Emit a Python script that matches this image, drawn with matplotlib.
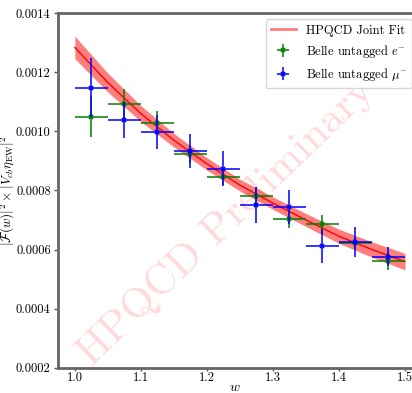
import numpy as np
import matplotlib
matplotlib.use("Agg")
import matplotlib.pyplot as plt
from matplotlib.lines import Line2D

plt.rcParams['font.family'] = ['cmr10', 'DejaVu Serif']
plt.rcParams['mathtext.fontset'] = 'cm'
plt.rcParams['axes.formatter.use_mathtext'] = True

# Belle bins (w centres, half-width 0.025)
w_bins = [1.025, 1.075, 1.125, 1.175, 1.225, 1.275, 1.325, 1.375, 1.425, 1.475]
w_halfwidth = 0.025

# Belle untagged e-
e_vals = [0.001050, 0.001092, 0.001028, 0.000923, 0.000845, 0.000781, 0.000702, 0.000686, 0.000621, 0.000561]
e_errs = [0.000070, 0.000050, 0.000040, 0.000030, 0.000025, 0.000030, 0.000030, 0.000032, 0.000020, 0.000030]

# Belle untagged mu-
mu_vals = [0.001148, 0.001039, 0.000998, 0.000933, 0.000873, 0.000751, 0.000744, 0.000613, 0.000626, 0.000576]
mu_errs = [0.000100, 0.000060, 0.000058, 0.000058, 0.000059, 0.000061, 0.000058, 0.000058, 0.000050, 0.000032]

# HPQCD joint fit (central value and band half-width)
fit_w = [1.00, 1.05, 1.10, 1.15, 1.20, 1.25, 1.30, 1.35, 1.40, 1.45, 1.50]
fit_vals = [0.001284, 0.001165, 0.001060, 0.000970, 0.000890, 0.000818, 0.000757, 0.000700, 0.000645, 0.000600, 0.000559]
fit_errs = [0.000038, 0.000032, 0.000027, 0.000023, 0.000021, 0.000020, 0.000021, 0.000022, 0.000024, 0.000026, 0.000028]

fig = plt.figure(figsize=(4.12, 3.93), dpi=100)
ax = fig.add_axes([0.140, 0.0644, 0.875, 0.902])

lo = np.array(fit_vals) - np.array(fit_errs)
hi = np.array(fit_vals) + np.array(fit_errs)
ax.fill_between(fit_w, lo, hi, color='red', alpha=0.5, lw=0, zorder=1)
ax.plot(fit_w, fit_vals, color='red', lw=1, zorder=2)

ax.errorbar(w_bins, e_vals, yerr=e_errs, xerr=w_halfwidth, fmt='x', color='green',
            ms=3.5, mew=1.2, elinewidth=1.1, capsize=0, zorder=3, label=r'Belle untagged $e^{-}$')
ax.errorbar(w_bins, mu_vals, yerr=mu_errs, xerr=w_halfwidth, fmt='x', color='blue',
            ms=3.5, mew=1.2, elinewidth=1.1, capsize=0, zorder=4, label=r'Belle untagged $\mu^{-}$')

ax.text(0.466, 0.411, 'HPQCD Preliminary', transform=ax.transAxes, fontsize=31,
        color='red', alpha=0.15, rotation=44, ha='center', va='center', zorder=0)

ax.set_xlim(0.974, 1.52)
ax.set_ylim(0.0002, 0.0014)
ax.set_xticks([1.0, 1.1, 1.2, 1.3, 1.4, 1.5])
ax.set_yticks([0.0002, 0.0004, 0.0006, 0.0008, 0.0010, 0.0012, 0.0014])
ax.set_xticklabels(['1.0', '1.1', '1.2', '1.3', '1.4', '1.5'])
ax.set_yticklabels(['0.0002', '0.0004', '0.0006', '0.0008', '0.0010', '0.0012', '0.0014'])
ax.tick_params(labelsize=9, length=3, width=1, color='#555555', pad=2)
ax.tick_params(axis='x', length=2, pad=1)
for s in ax.spines.values():
    s.set_linewidth(2)
    s.set_color('#666666')

ax.set_xlabel(r'$w$', fontsize=10)
ax.xaxis.set_label_coords(0.49, -0.040)
ax.set_ylabel(r'$|\mathcal{F}(w)|^2 \times |V_{cb}\eta_{\mathrm{EW}}|^2$', fontsize=9.5)
ax.yaxis.set_label_coords(-0.112, 0.5)

handles, labels = ax.get_legend_handles_labels()
fit_handle = Line2D([], [], color='red', alpha=0.5, lw=2)
ax.legend([fit_handle] + handles, ['HPQCD Joint Fit'] + labels, loc='upper right',
          fontsize=9, frameon=True, fancybox=True, borderaxespad=0.5)

fig.savefig('out.png', dpi=100)
